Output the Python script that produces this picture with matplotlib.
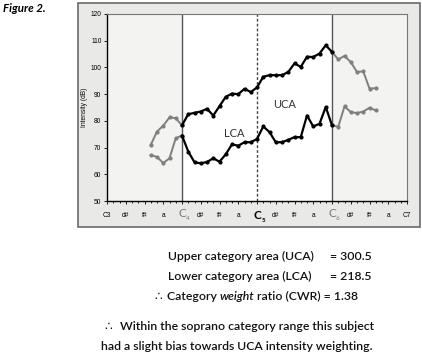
import numpy as np
import matplotlib
matplotlib.use("Agg")
import matplotlib.pyplot as plt
from matplotlib.patches import Rectangle

# semitones above C3 (C3 = 0, C4 = 12, C5 = 24, C6 = 36, C7 = 48)
semis_left = [7, 8, 9, 10, 11, 12]
upper_left = [71.0, 76.0, 78.2, 81.3, 81.0, 78.3]
lower_left = [67.2, 66.5, 64.2, 66.0, 73.5, 74.5]

semis_mid = list(range(12, 37))
upper_mid = [78.3, 82.5, 83.0, 83.5, 84.5, 82.0, 85.5, 89.0, 90.2, 90.0, 92.0, 90.8,
             92.5, 96.5, 97.1, 97.1, 97.1, 98.3, 101.5, 100.2, 104.0, 103.9, 105.2, 108.3, 105.8]
lower_mid = [74.5, 68.5, 64.5, 64.1, 64.6, 66.0, 64.7, 67.5, 71.2, 70.7, 72.0, 72.0,
             73.2, 77.9, 75.8, 72.0, 72.0, 72.9, 73.9, 73.9, 82.0, 77.9, 78.9, 85.2, 78.3]

semis_right = [36, 37, 38, 39, 40, 41, 42, 43]
upper_right = [105.8, 103.0, 104.3, 102.0, 98.3, 98.5, 92.1, 92.2]
lower_right = [78.3, 77.8, 85.4, 83.3, 82.9, 83.5, 84.9, 83.9]

tick_pos = list(range(0, 49, 3))
tick_lab = ['C3', 'd#', 'f#', 'a', '', 'd#', 'f#', 'a', '', 'd#', 'f#', 'a', '', 'd#', 'f#', 'a', 'C7']

W, H = 422, 358
fig = plt.figure(figsize=(W / 100, H / 100), dpi=100)

def fx(px):
    return px / W

def fy(py):
    return 1 - py / H

# outer grey chart frame
fig.patches.append(Rectangle((fx(78), fy(227)), fx(420) - fx(78), fy(3) - fy(227),
                             transform=fig.transFigure, facecolor='#e9e9e7',
                             edgecolor='#6a6a6a', lw=1.2, zorder=-5))

ax = fig.add_axes([fx(107), fy(201), fx(407) - fx(107), fy(14) - fy(201)])
ax.set_xlim(0, 48)
ax.set_ylim(50, 120)
ax.set_facecolor('white')
ax.axvspan(0, 12, color='#f3f3f1', zorder=0)
ax.axvspan(36, 48, color='#f3f3f1', zorder=0)
ax.axvline(12, color='#555555', lw=1.0)
ax.axvline(36, color='#555555', lw=1.0)
ax.axvline(24, color='#444444', lw=1.0, ls=(0, (2, 1.5)))

grey = '#7f7f7f'
ax.plot(semis_left, upper_left, color=grey, lw=1.4, marker='o', ms=2.0)
ax.plot(semis_left, lower_left, color=grey, lw=1.4, marker='o', ms=2.0)
ax.plot(semis_right, upper_right, color=grey, lw=1.4, marker='o', ms=2.0)
ax.plot(semis_right, lower_right, color=grey, lw=1.4, marker='o', ms=2.0)
ax.plot(semis_mid, upper_mid, color='black', lw=1.6, marker='o', ms=2.0)
ax.plot(semis_mid, lower_mid, color='black', lw=1.6, marker='o', ms=2.0)

ax.text(28.4, 86.2, 'UCA', fontsize=8, color='#333333', family='Lato', ha='center', va='center')
ax.text(20.3, 75.3, 'LCA', fontsize=8, color='#333333', family='Lato', ha='center', va='center')

for s in ['top', 'right']:
    ax.spines[s].set_color('#777777')
    ax.spines[s].set_linewidth(0.8)
for s in ['left', 'bottom']:
    ax.spines[s].set_color('black')
    ax.spines[s].set_linewidth(1.0)

ax.set_yticks(range(50, 121, 10))
ax.set_xticks(tick_pos)
ax.set_xticklabels(tick_lab)
ax.set_xticks(range(0, 49), minor=True)
ax.tick_params(axis='both', labelsize=4.8, length=2, width=0.6, pad=2,
               labelfontfamily='Liberation Sans')
ax.tick_params(axis='x', which='minor', length=1.5, width=0.6)
ax.tick_params(axis='x', pad=6)
ax.set_ylabel('Intensity (dB)', fontsize=4.8, family='Liberation Sans', labelpad=2)

# octave labels under the axis
xt = ax.get_xaxis_transform()
ax.text(12, -0.065, 'C', transform=xt, fontsize=8.5, color='#777777',
        family='Lato', ha='center', va='center')
ax.text(12.9, -0.095, '4', transform=xt, fontsize=4.5, color='#777777',
        family='Lato', ha='center', va='center')
ax.text(36, -0.065, 'C', transform=xt, fontsize=8.5, color='#777777',
        family='Lato', ha='center', va='center')
ax.text(36.9, -0.095, '6', transform=xt, fontsize=4.5, color='#777777',
        family='Lato', ha='center', va='center')
ax.text(24, -0.075, 'C', transform=xt, fontsize=8.5, color='black',
        family='Lato', weight='bold', ha='center', va='center')
ax.text(25.0, -0.105, '5', transform=xt, fontsize=4.5, color='black',
        family='Lato', weight='bold', ha='center', va='center')

fig.text(fx(3), fy(8), 'Figure 2.', fontsize=8.3, family='Lato', weight='bold', style='italic',
         ha='left', va='center')

# text block under the chart
fs = 8.8
fig.canvas.draw()
renderer = fig.canvas.get_renderer()

def run(x, y, pieces):
    for s, kw in pieces:
        t = fig.text(fx(x), fy(y), s, fontsize=fs, va='center', ha='left', **kw)
        x += t.get_window_extent(renderer).width

reg = dict(family='Lato', weight='semibold', color='#111111')
ita = dict(family='Lato', weight='semibold', style='italic', color='#111111')
sym = dict(family='DejaVu Sans', color='#111111')

run(168, 256, [('Upper category area (UCA)', reg)])
run(330, 256, [('= 300.5', reg)])
run(168, 276, [('Lower category area (LCA)', reg)])
run(330, 276, [('= 218.5', reg)])
run(155, 296, [('\u2234 ', sym), ('Category ', reg), ('weight', ita), (' ratio (CWR) = 1.38', reg)])
run(105, 327, [('\u2234  ', sym), ('Within the soprano category range this subject', reg)])
run(101, 346, [('had a slight bias towards UCA intensity weighting.', reg)])

fig.savefig('out.png', dpi=100)
